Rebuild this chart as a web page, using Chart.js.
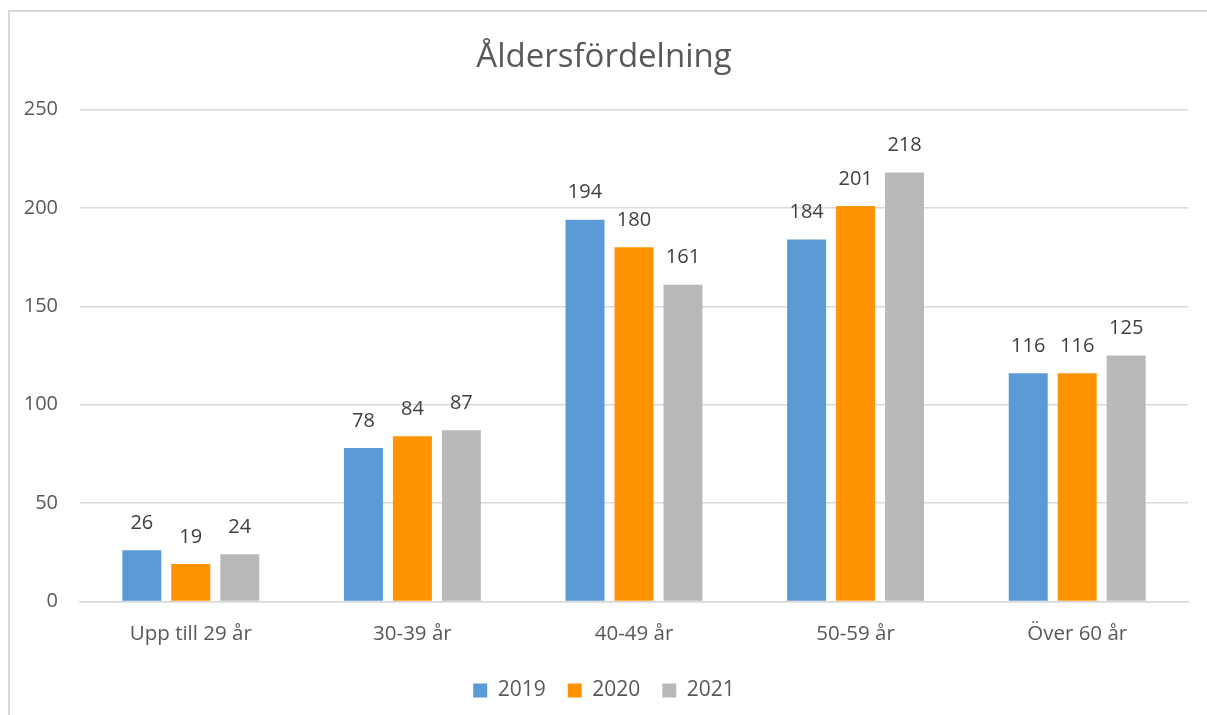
<!DOCTYPE html>
<html>
<head>
<meta charset="utf-8">
<script src="https://cdn.jsdelivr.net/npm/chart.js@4"></script>
<style>
  html, body { margin: 0; background: #fff; overflow: hidden; }
  #wrap { position: absolute; left: 0; top: 0; width: 1207px; height: 715px; }
</style>
</head>
<body>
<div id="wrap"><canvas id="canvas"></canvas></div>
<script>
const categories = ['Upp till 29 år', '30-39 år', '40-49 år', '50-59 år', 'Över 60 år'];
const years = ['2019', '2020', '2021'];
const values2019 = [26, 78, 194, 184, 116];
const values2020 = [19, 84, 180, 201, 116];
const values2021 = [24, 87, 161, 218, 125];
const yTicks = [0, 50, 100, 150, 200, 250];

const fontName = "'Open Sans', 'Noto Sans', sans-serif";

// light frame on the left and top edge, like the chart object border
const frame = {
    id: 'frame',
    beforeDraw(chart){
        const ctx = chart.ctx;
        ctx.save();
        ctx.strokeStyle = '#d9d9d9';
        ctx.lineWidth = 2;
        ctx.beginPath();
        ctx.moveTo(9, chart.height);
        ctx.lineTo(9, 11);
        ctx.lineTo(chart.width, 11);
        ctx.stroke();
        ctx.restore();
    }
};

// simple value labels above the bars
const barLabels = {
    id: 'barLabels',
    afterDatasetsDraw(chart){
        const ctx = chart.ctx;
        ctx.save();
        ctx.font = '20px ' + fontName;
        ctx.fillStyle = '#404040';
        ctx.textAlign = 'center';
        ctx.textBaseline = 'middle';
        chart.data.datasets.forEach((ds, i) => {
            chart.getDatasetMeta(i).data.forEach((bar, j) => {
                ctx.fillText(ds.data[j], bar.x, bar.y - 27);
            });
        });
        ctx.restore();
    }
};

const ctx = document.getElementById('canvas').getContext('2d');
const myChart = new Chart(ctx, {
    type: 'bar',
    data: {
        labels: categories,
        datasets: [
            { label: years[0], data: values2019, backgroundColor: '#5B9BD5' },
            { label: years[1], data: values2020, backgroundColor: '#FF9300' },
            { label: years[2], data: values2021, backgroundColor: '#B9B9B9' }
        ]
    },
    options: {
        responsive: true,
        maintainAspectRatio: false,
        animation: false,
        layout: { padding: { left: 20, right: 19, top: 28, bottom: 4 } },
        datasets: { bar: { categoryPercentage: 0.663, barPercentage: 0.796 } },
        plugins: {
            title: {
                display: true,
                text: 'Åldersfördelning',
                color: '#595959',
                font: { family: fontName, size: 33, weight: 'normal' },
                padding: { top: 10, bottom: 32 }
            },
            legend: {
                position: 'bottom',
                labels: {
                    color: '#595959',
                    font: { family: fontName, size: 21 },
                    boxWidth: 14,
                    boxHeight: 14,
                    padding: 22
                }
            },
            tooltip: { enabled: false }
        },
        scales: {
            x: {
                grid: { display: false },
                border: { color: '#d9d9d9', width: 1.5 },
                ticks: { color: '#595959', font: { family: fontName, size: 20.5 }, padding: 12 }
            },
            y: {
                min: 0,
                max: 250,
                afterFit(scale){ scale.width = 60; },
                afterBuildTicks(scale){ scale.ticks = yTicks.map(v => ({ value: v })); },
                grid: { color: '#d9d9d9', lineWidth: 1.5, drawTicks: false },
                border: { display: false },
                ticks: { color: '#595959', font: { family: fontName, size: 20 }, padding: 22 }
            }
        }
    },
    plugins: [frame, barLabels]
});
</script>
</body>
</html>
